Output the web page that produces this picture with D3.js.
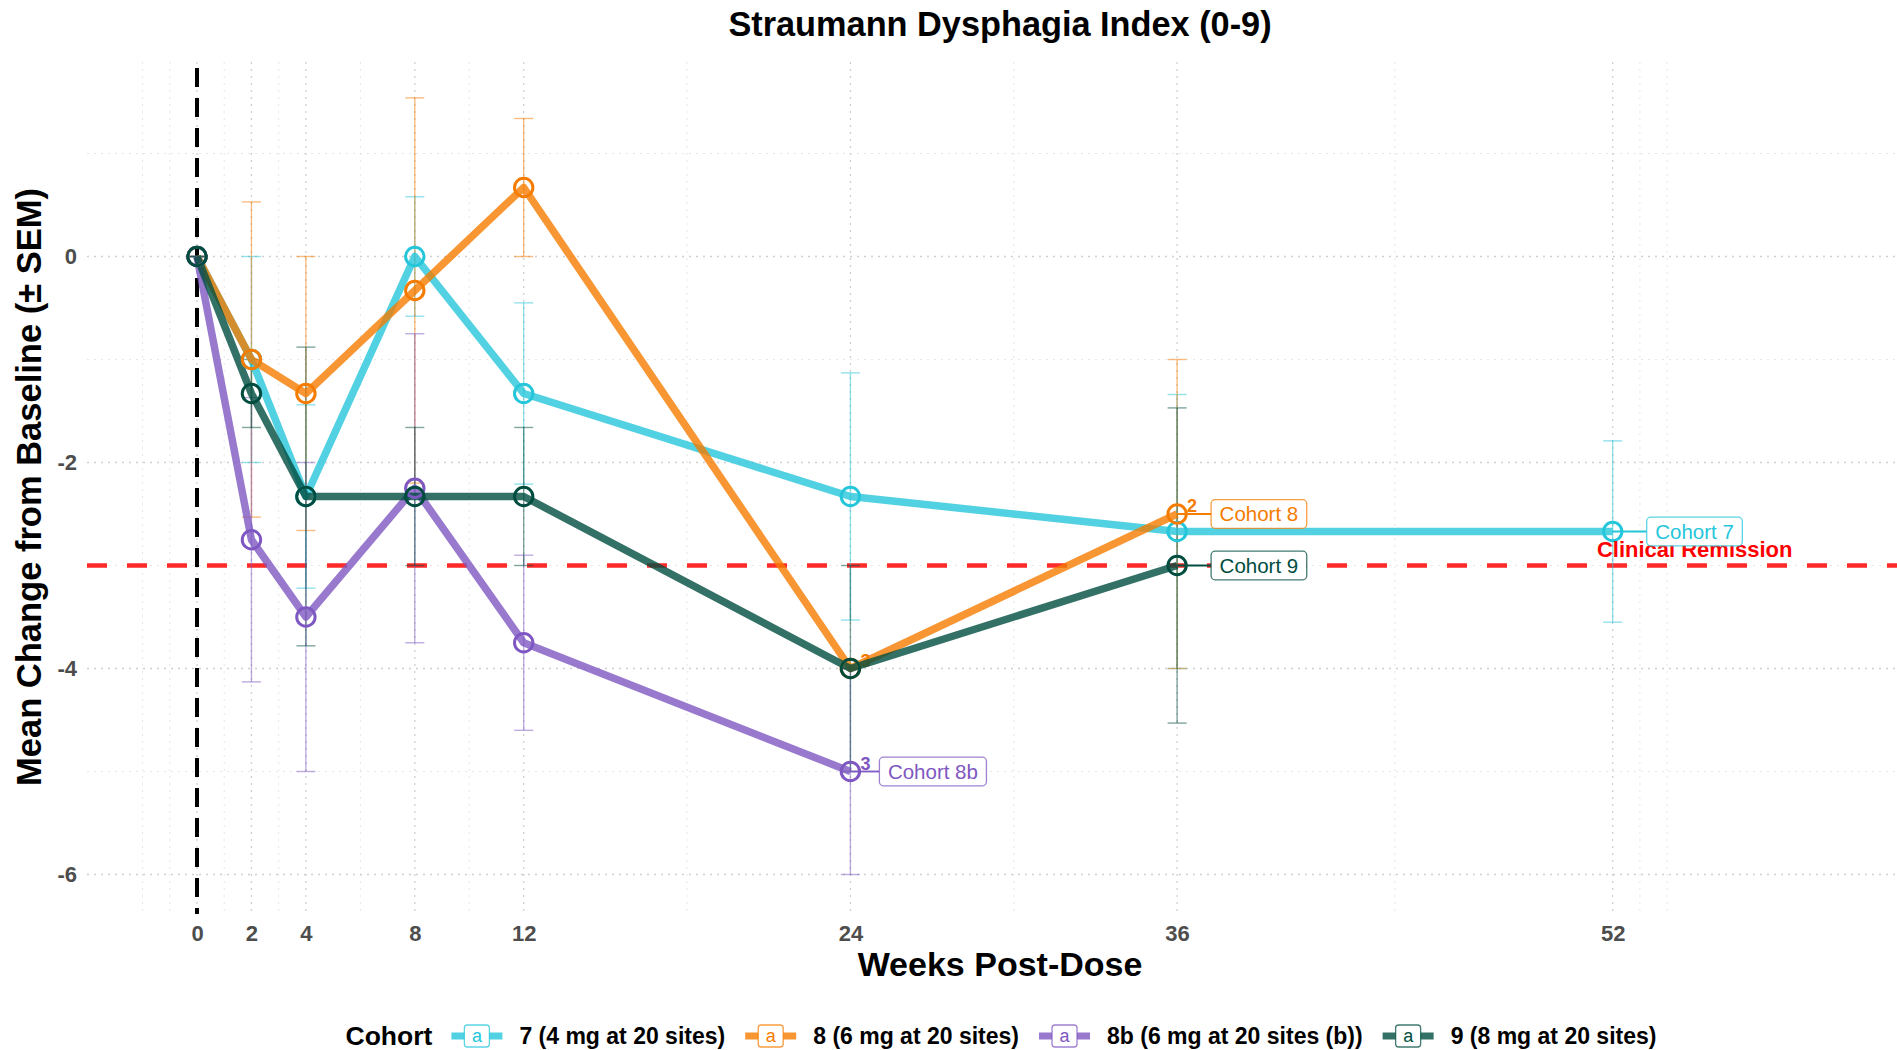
<!DOCTYPE html>
<html><head><meta charset="utf-8">
<script src="https://cdn.jsdelivr.net/npm/d3@7"></script>
<style>
body{margin:0;background:#fff}
svg{display:block}
text{font-family:"Liberation Sans",Arial,Helvetica,sans-serif}
</style>
</head><body>
<svg id="chart" width="1897" height="1050"></svg>
<script>
// ---------------- data ----------------
const cohortKeys   = ["7", "8", "8b", "9"];
const legendLabels = ["7 (4 mg at 20 sites)", "8 (6 mg at 20 sites)", "8b (6 mg at 20 sites (b))", "9 (8 mg at 20 sites)"];
const endLabels    = ["Cohort 7", "Cohort 8", "Cohort 8b", "Cohort 9"];
const cohortColors = ["#26C6DA", "#F57C00", "#7E57C2", "#004D40"];

const weeks7 = [0, 2, 4, 8, 12, 24, 36, 52];
const mean7  = [0, -1, -2.33, 0, -1.33, -2.33, -2.67, -2.67];
const sem7   = [0, 1, 0.89, 0.58, 0.88, 1.2, 1.33, 0.88];
const n7     = ["", "", "", "", "", "", "", ""];

const weeks8 = [0, 2, 4, 8, 12, 24, 36];
const mean8  = [0, -1, -1.33, -0.33, 0.67, -4, -2.5];
const sem8   = [0, 1.53, 1.33, 1.87, 0.67, 0, 1.5];
const n8     = ["", "", "", "", "", "3", "2"];

const weeks8b = [0, 2, 4, 8, 12, 24];
const mean8b  = [0, -2.75, -3.5, -2.25, -3.75, -5];
const sem8b   = [0, 1.38, 1.5, 1.5, 0.85, 1];
const n8b     = ["", "", "", "", "", "3"];

const weeks9 = [0, 2, 4, 8, 12, 24, 36];
const mean9  = [0, -1.33, -2.33, -2.33, -2.33, -4, -3];
const sem9   = [0, 0.33, 1.45, 0.67, 0.67, 1, 1.53];
const n9     = ["", "", "", "", "", "", ""];

const xTicks      = [0, 2, 4, 8, 12, 24, 36, 52];
const xMinorTicks = [-2, -1, 1, 3, 6, 10, 18, 30, 44, 53, 54];
const yTicks      = [0, -2, -4, -6];
const yMinorTicks = [1, -1, -3, -5];
const remissionLevel = -3;
const remissionText  = "Clinical Remission";

const chartTitle = "Straumann Dysphagia Index (0-9)";
const xTitle = "Weeks Post-Dose";
const yTitle = "Mean Change from Baseline (± SEM)";
const legendTitle = "Cohort";

// ---------------- build ----------------
const series = [
  {w: weeks7, m: mean7, s: sem7, n: n7},
  {w: weeks8, m: mean8, s: sem8, n: n8},
  {w: weeks8b, m: mean8b, s: sem8b, n: n8b},
  {w: weeks9, m: mean9, s: sem9, n: n9}
].map((d, i) => ({
  key: cohortKeys[i], color: cohortColors[i], label: endLabels[i], legend: legendLabels[i],
  pts: d.w.map((w, j) => ({x: w, y: d.m[j], se: d.s[j], n: d.n[j]}))
}));

const svg = d3.select("#chart");
const panel = {left: 87, right: 1897, top: 62, bottom: 914};

const x = d3.scaleLinear().domain([0, 52]).range([197, 1612.7]);
const y = d3.scaleLinear().domain([0, -6]).range([256.5, 874.5]);

// grid
const grid = svg.append("g");
grid.selectAll(".hmin").data(yMinorTicks).join("line")
  .attr("x1", panel.left).attr("x2", panel.right)
  .attr("y1", d => y(d)).attr("y2", d => y(d))
  .attr("stroke", "#e3e3e3").attr("stroke-width", 0.9).attr("stroke-dasharray", "2,5");
grid.selectAll(".vmin").data(xMinorTicks).join("line")
  .attr("y1", panel.top).attr("y2", panel.bottom)
  .attr("x1", d => x(d)).attr("x2", d => x(d))
  .attr("stroke", "#e3e3e3").attr("stroke-width", 0.9).attr("stroke-dasharray", "2,5");
grid.selectAll(".hmaj").data(yTicks).join("line")
  .attr("x1", panel.left).attr("x2", panel.right)
  .attr("y1", d => y(d)).attr("y2", d => y(d))
  .attr("stroke", "#cfcfcf").attr("stroke-width", 1.3).attr("stroke-dasharray", "2,5");
grid.selectAll(".vmaj").data(xTicks).join("line")
  .attr("y1", panel.top).attr("y2", panel.bottom)
  .attr("x1", d => x(d)).attr("x2", d => x(d))
  .attr("stroke", "#cfcfcf").attr("stroke-width", 1.3).attr("stroke-dasharray", "2,5");

// axes (labels only)
const fmt = d => String(d);
const xAxis = d3.axisBottom(x).tickValues(xTicks).tickSize(0).tickPadding(0).tickFormat(fmt);
const gx = svg.append("g").attr("transform", `translate(0,${925})`).call(xAxis);
gx.select(".domain").remove();
gx.selectAll("text").attr("font-size", 22).attr("font-weight", "bold").attr("fill", "#4d4d4d")
  .attr("font-family", '"Liberation Sans",Arial,sans-serif');

const yAxis = d3.axisLeft(y).tickValues(yTicks).tickSize(0).tickPadding(0).tickFormat(fmt);
const gy = svg.append("g").attr("transform", `translate(${77},0)`).call(yAxis);
gy.select(".domain").remove();
gy.selectAll("text").attr("font-size", 22).attr("font-weight", "bold").attr("fill", "#4d4d4d")
  .attr("font-family", '"Liberation Sans",Arial,sans-serif');

// reference lines
svg.append("line")
  .attr("x1", panel.left).attr("x2", panel.right)
  .attr("y1", y(remissionLevel)).attr("y2", y(remissionLevel))
  .attr("stroke", "#FF2A2A").attr("stroke-width", 4.5).attr("stroke-dasharray", "20,20");
svg.append("line")
  .attr("x1", x(0)).attr("x2", x(0))
  .attr("y1", panel.top + 6).attr("y2", panel.bottom)
  .attr("stroke", "#000").attr("stroke-width", 4).attr("stroke-dasharray", "19,11");

// error bars
const eb = svg.append("g");
series.forEach(s => {
  const g = eb.append("g").attr("stroke", s.color).attr("stroke-opacity", 0.5).attr("stroke-width", 1.4);
  g.selectAll(".v").data(s.pts).join("line")
    .attr("x1", d => x(d.x)).attr("x2", d => x(d.x))
    .attr("y1", d => y(d.y + d.se)).attr("y2", d => y(d.y - d.se));
  g.selectAll(".t").data(s.pts).join("line")
    .attr("x1", d => x(d.x) - 9.5).attr("x2", d => x(d.x) + 9.5)
    .attr("y1", d => y(d.y + d.se)).attr("y2", d => y(d.y + d.se));
  g.selectAll(".b").data(s.pts).join("line")
    .attr("x1", d => x(d.x) - 9.5).attr("x2", d => x(d.x) + 9.5)
    .attr("y1", d => y(d.y - d.se)).attr("y2", d => y(d.y - d.se));
});

// n superscripts (under the lines)
series.forEach(s => {
  svg.append("g").selectAll("text").data(s.pts.filter(d => d.n)).join("text")
    .attr("x", d => x(d.x) + 10).attr("y", d => y(d.y) - 2)
    .attr("font-size", 18).attr("font-weight", "bold").attr("fill", s.color)
    .text(d => d.n);
});

// lines
const lineGen = d3.line().x(d => x(d.x)).y(d => y(d.y));
series.forEach(s => {
  svg.append("path").datum(s.pts).attr("d", lineGen)
    .attr("fill", "none").attr("stroke", s.color).attr("stroke-opacity", 0.8)
    .attr("stroke-width", 7.5).attr("stroke-linejoin", "round");
});
// points
series.forEach(s => {
  svg.append("g").selectAll("circle").data(s.pts).join("circle")
    .attr("cx", d => x(d.x)).attr("cy", d => y(d.y)).attr("r", 9.2)
    .attr("fill", "none").attr("stroke", s.color).attr("stroke-width", 3);
});

// remission annotation
svg.append("text").attr("x", x(52) + 82).attr("y", 557)
  .attr("text-anchor", "middle").attr("font-size", 22).attr("font-weight", "bold")
  .attr("fill", "#FF0000").text(remissionText);

// end labels (repel-like boxes)
series.forEach(s => {
  const last = s.pts[s.pts.length - 1];
  const px = x(last.x), py = y(last.y);
  const bx = px + (s.key === "8b" ? 29 : 34);
  const g = svg.append("g");
  g.append("line").attr("x1", px).attr("x2", bx).attr("y1", py).attr("y2", py)
    .attr("stroke", s.color).attr("stroke-width", 1.8);
  const t = g.append("text").attr("x", bx + 8.5).attr("y", py + 7.3)
    .attr("font-size", 20.5).attr("fill", s.color).text(s.label);
  const w = t.node().getComputedTextLength();
  g.insert("rect", "text").attr("x", bx).attr("y", py - 14.3).attr("width", w + 17).attr("height", 28.6)
    .attr("rx", 4).attr("fill", "#fff").attr("stroke", s.color).attr("stroke-opacity", 0.75).attr("stroke-width", 1.3);
});

// titles
svg.append("text").attr("x", 1000).attr("y", 36).attr("text-anchor", "middle")
  .attr("font-size", 34.3).attr("font-weight", "bold").attr("fill", "#000").text(chartTitle);
svg.append("text").attr("x", 1000).attr("y", 976).attr("text-anchor", "middle")
  .attr("font-size", 34).attr("font-weight", "bold").attr("fill", "#000").text(xTitle);
svg.append("text").attr("transform", "translate(41,487) rotate(-90)").attr("text-anchor", "middle")
  .attr("font-size", 34.5).attr("font-weight", "bold").attr("fill", "#000").text(yTitle);

// legend
const leg = svg.append("g");
const ly = 1036;
let cx = 0;
const lt = leg.append("text").attr("x", cx).attr("y", ly + 9).attr("font-size", 26.5).attr("font-weight", "bold").text(legendTitle);
cx += lt.node().getComputedTextLength() + 19;
series.forEach((s, i) => {
  const k = leg.append("g").attr("transform", `translate(${cx},0)`);
  k.append("line").attr("x1", 0).attr("x2", 51).attr("y1", ly).attr("y2", ly)
    .attr("stroke", s.color).attr("stroke-opacity", 0.8).attr("stroke-width", 7);
  k.append("rect").attr("x", 13).attr("y", ly - 11).attr("width", 25).attr("height", 22).attr("rx", 3)
    .attr("fill", "#fff").attr("stroke", s.color).attr("stroke-opacity", 0.75).attr("stroke-width", 1.3);
  k.append("text").attr("x", 25.5).attr("y", ly + 6).attr("text-anchor", "middle")
    .attr("font-size", 18).attr("fill", s.color).text("a");
  const tt = leg.append("text").attr("x", cx + 68).attr("y", ly + 8).attr("font-size", 23).attr("font-weight", "bold").text(s.legend);
  cx += 68 + tt.node().getComputedTextLength() + 20;
});
const legW = cx - 20;
leg.attr("transform", `translate(${1001 - legW / 2},0)`);
</script>
</body></html>
